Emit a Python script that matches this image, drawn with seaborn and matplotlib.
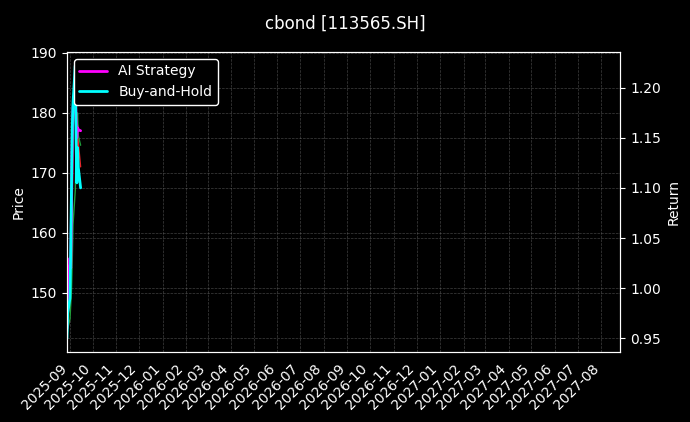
import pandas as pd
import matplotlib
matplotlib.use("Agg")
import matplotlib.pyplot as plt
import matplotlib.dates as mdates
import seaborn as sns

# values (data only covers the first weeks)
dates = ["2025-08-28", "2025-08-29", "2025-09-01", "2025-09-02", "2025-09-03",
         "2025-09-04", "2025-09-05", "2025-09-08", "2025-09-09", "2025-09-10",
         "2025-09-11", "2025-09-12", "2025-09-15"]
price = [142.4, 145.5, 149.0, 155.0, 160.5, 166.0, 176.0, 187.9, 180.0, 172.0,
         178.0, 175.0, 171.0]
price_ma = [142.4, 144.0, 145.6, 148.0, 150.5, 155.2, 161.4, 167.1, 174.1, 178.5,
            180.0, 176.2, 174.6]
ai_return = [0.960, 1.000, 1.030, 1.020, 1.080, 1.150, 1.180, 1.200, 1.170,
             1.150, 1.160, 1.158, 1.157]
bh_return = [0.950, 0.975, 0.990, 1.040, 1.100, 1.160, 1.185, 1.222, 1.150,
             1.105, 1.140, 1.120, 1.100]
xlim_dates = ["2025-08-28", "2027-08-26"]
title = "cbond [113565.SH]"

df = pd.DataFrame({
    "date": pd.to_datetime(dates),
    "price": price,
    "price_ma": price_ma,
    "ai": ai_return,
    "bh": bh_return,
})

sns.set_style("dark", {"axes.facecolor": "black", "figure.facecolor": "black"})
plt.style.use("dark_background")
plt.rcParams["font.family"] = ["DejaVu Sans"]

fig = plt.figure(figsize=(6.9, 4.22), dpi=100)
ax1 = fig.add_axes([0.097, 0.166, 0.802, 0.711])
ax2 = ax1.twinx()

sns.lineplot(data=df, x="date", y="price", ax=ax1, color="#e8262b", linewidth=1.0)
sns.lineplot(data=df, x="date", y="price_ma", ax=ax1, color="#1f9e3a", linewidth=1.0)
ax1.set_ylabel("Price")
ax1.set_xlabel("")
ax1.grid(True, color="gray", linestyle="--", linewidth=0.5, alpha=0.5)

sns.lineplot(data=df, x="date", y="ai", ax=ax2, color="#ff00ff", linewidth=2,
             label="AI Strategy")
sns.lineplot(data=df, x="date", y="bh", ax=ax2, color="#00ffff", linewidth=2,
             label="Buy-and-Hold")
ax2.set_ylabel("Return")
ax2.set_xlabel("")
ax2.grid(True, color="gray", linestyle="--", linewidth=0.5, alpha=0.5)

ax1.set_xlim(pd.to_datetime(xlim_dates[0]), pd.to_datetime(xlim_dates[1]))
ax1.xaxis.set_major_locator(mdates.MonthLocator())
ax1.xaxis.set_major_formatter(mdates.DateFormatter("%Y-%m"))
plt.setp(ax1.get_xticklabels(), rotation=45, ha="right")

leg = ax2.legend(loc="upper left", facecolor="black", edgecolor="white",
                 framealpha=1.0)

fig.suptitle(title, y=0.965, fontsize=12)
fig.savefig("out.png", dpi=100, facecolor="black")
